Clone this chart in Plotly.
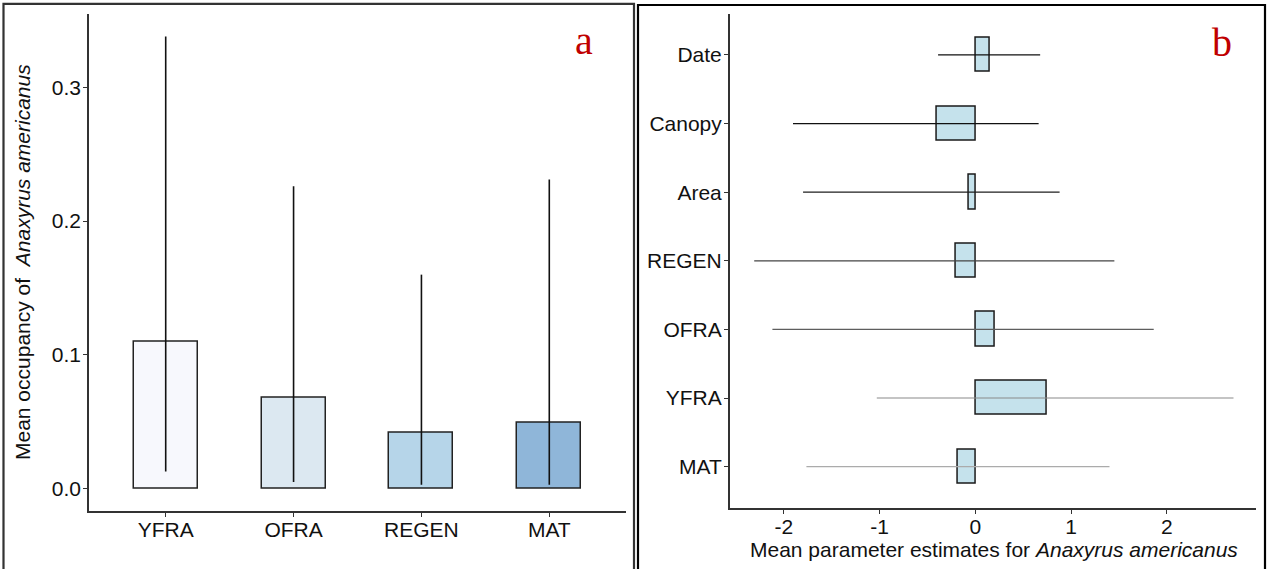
import plotly.graph_objects as go

# Panel a: mean occupancy by habitat type
habitats = ["YFRA", "OFRA", "REGEN", "MAT"]
occ_mean = [0.110, 0.068, 0.042, 0.049]
occ_low = [0.013, 0.005, 0.003, 0.003]
occ_high = [0.338, 0.226, 0.160, 0.231]
habitat_fill = ["#F7F8FD", "#DCE8F1", "#B6D5E9", "#8FB6D9"]
occ_ticks = [0.0, 0.1, 0.2, 0.3]

# Panel b: mean parameter estimates (bottom to top)
params = ["MAT", "YFRA", "OFRA", "REGEN", "Area", "Canopy", "Date"]
est_mean = [-0.18, 0.75, 0.20, -0.20, -0.065, -0.40, 0.155]
est_low = [-1.765, -1.03, -2.12, -2.31, -1.80, -1.905, -0.39]
est_high = [1.40, 2.695, 1.862, 1.451, 0.879, 0.66, 0.676]
ci_colors = ["#ABABAB", "#8A8A8A", "#5E5E5E", "#444444", "#1E1E1E", "#111111", "#111111"]
est_ticks = [-2, -1, 0, 1, 2]

W, H = 1267, 569
FONT = "Liberation Sans"
FS = 21
AXC = "#333333"

fig = go.Figure()

# --- panel a bars + interval lines
fig.add_trace(go.Bar(
    x=habitats, y=occ_mean, width=0.5,
    marker=dict(color=habitat_fill, line=dict(color="#222222", width=1.5)),
    xaxis="x", yaxis="y", showlegend=False,
))
for h, lo, hi in zip(habitats, occ_low, occ_high):
    fig.add_trace(go.Scatter(
        x=[h, h], y=[lo, hi], mode="lines",
        line=dict(color="#111111", width=1.6),
        xaxis="x", yaxis="y", showlegend=False,
    ))

# --- panel b bars + interval lines
fig.add_trace(go.Bar(
    y=params, x=est_mean, base=0, orientation="h", width=0.5,
    marker=dict(color="#C5E2EC", line=dict(color="#1A1A1A", width=1.5)),
    xaxis="x2", yaxis="y2", showlegend=False,
))
for p, lo, hi, c in zip(params, est_low, est_high, ci_colors):
    fig.add_trace(go.Scatter(
        x=[lo, hi], y=[p, p], mode="lines",
        line=dict(color=c, width=1.2),
        xaxis="x2", yaxis="y2", showlegend=False,
    ))

axis_common = dict(
    showline=True, linecolor=AXC, linewidth=1.6, mirror=False,
    ticks="outside", ticklen=4, tickwidth=1.2, tickcolor=AXC,
    showgrid=False, zeroline=False,
    tickfont=dict(family=FONT, size=FS, color="#111111"),
)

fig.update_layout(
    width=W, height=H,
    margin=dict(l=0, r=0, t=0, b=0),
    paper_bgcolor="white", plot_bgcolor="white",
    bargap=0,
    xaxis=dict(domain=[89 / W, 626 / W], anchor="y", type="category",
               categoryorder="array", categoryarray=habitats,
               range=[-0.6, 3.6], ticklabelstandoff=-5, **axis_common),
    yaxis=dict(domain=[1 - 511.4 / H, 1 - 13.8 / H], anchor="x",
               range=[-0.0169, 0.3549], tickvals=occ_ticks,
               ticktext=[f"{v:.1f}" for v in occ_ticks],
               ticklabelstandoff=-2, **axis_common),
    xaxis2=dict(domain=[729.8 / W, 1256 / W], anchor="y2",
                range=[-2.565, 2.93], tickvals=est_ticks,
                ticktext=[str(v) for v in est_ticks],
                ticklabelstandoff=-5, **axis_common),
    yaxis2=dict(domain=[1 - 507.8 / H, 1 - 13.8 / H], anchor="x2", type="category",
                categoryorder="array", categoryarray=params,
                range=[-0.6, 6.6], ticklabelstandoff=-2, **axis_common),
)

# axis titles
fig.add_annotation(
    text="Mean occupancy of  <i>Anaxyrus americanus</i>",
    x=22 / W, y=1 - 262 / H, xref="paper", yref="paper",
    textangle=-90, showarrow=False, xanchor="center", yanchor="middle",
    font=dict(family=FONT, size=FS, color="#111111"),
)
fig.add_annotation(
    text="Mean parameter estimates for <i>Anaxyrus americanus</i>",
    x=994 / W, y=1 - 549 / H, xref="paper", yref="paper",
    showarrow=False, xanchor="center", yanchor="middle",
    font=dict(family=FONT, size=FS, color="#111111"),
)

# panel letters
for letter, px, py in [("a", 583.5, 40), ("b", 1222, 42)]:
    fig.add_annotation(
        text=letter, x=px / W, y=1 - py / H, xref="paper", yref="paper",
        showarrow=False, xanchor="center", yanchor="middle",
        font=dict(family="Liberation Serif", size=40, color="#C00000"),
    )

# panel frames
fig.add_shape(type="rect", xref="paper", yref="paper",
              x0=3.5 / W, x1=634 / W, y0=-0.05, y1=1 - 3.8 / H,
              line=dict(color="#333333", width=2.2), fillcolor="rgba(0,0,0,0)",
              layer="above")
fig.add_shape(type="rect", xref="paper", yref="paper",
              x0=638 / W, x1=1265 / W, y0=-0.05, y1=1 - 5 / H,
              line=dict(color="#000000", width=2.2), fillcolor="rgba(0,0,0,0)",
              layer="above")

fig.write_html("out.html")
